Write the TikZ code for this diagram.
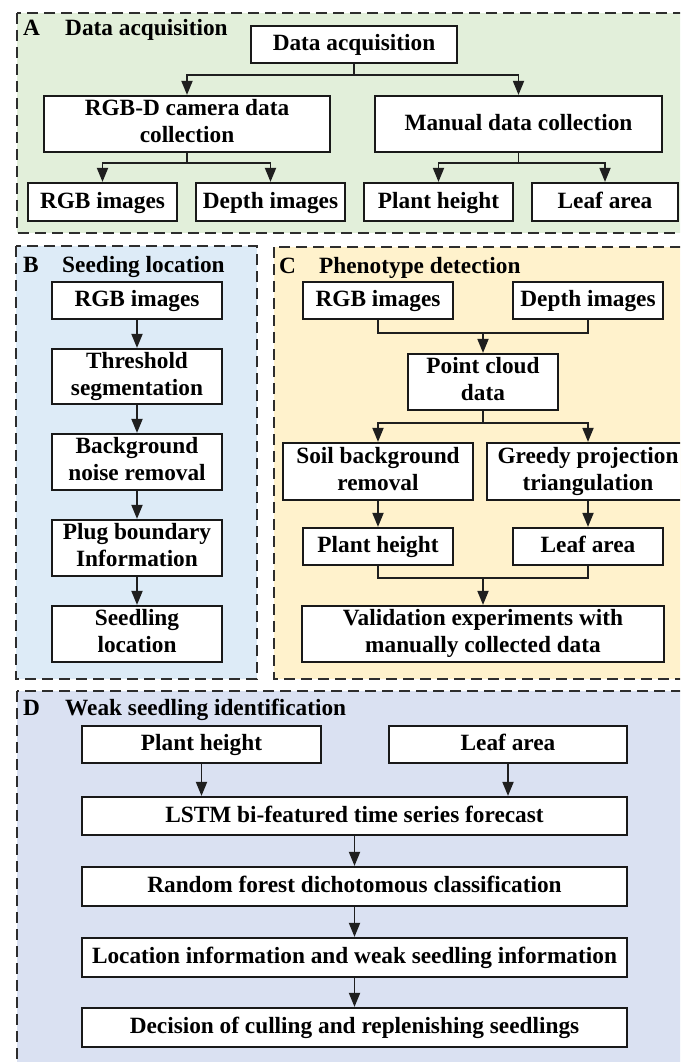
\documentclass[tikz,border=0pt]{standalone}
\usepackage{fontspec}
\setmainfont{Liberation Serif}
\usetikzlibrary{arrows.meta}
\definecolor{fillA}{RGB}{226,239,218}
\definecolor{fillB}{RGB}{221,235,247}
\definecolor{fillC}{RGB}{255,242,204}
\definecolor{fillD}{RGB}{218,225,242}
\definecolor{dashgray}{RGB}{45,45,45}
\begin{document}
\begin{tikzpicture}[x=1pt,y=-1pt,
  panel/.style={draw=dashgray, line width=2pt, dash pattern=on 11pt off 6pt},
  box/.style={draw=black!90, fill=white, line width=2.2pt, inner sep=0pt, align=center,
    font=\bfseries\fontsize{23.3}{26.7}\selectfont,
    execute at begin node={\rule{0pt}{18pt}},
    execute at end node={\rule[-5.5pt]{0pt}{5.5pt}}},
  title/.style={anchor=base west, inner sep=0pt, font=\bfseries\fontsize{23.3}{26.7}\selectfont},
  conn/.style={line width=1.8pt, draw=black!88},
  arrowc/.style={conn, -{Triangle[length=14pt,width=11pt]}}]
\clip (0,0) rectangle (680,1062);
\fill[white] (0,0) rectangle (680,1062);
% panels
\draw[panel, fill=fillA] (17,13) rectangle (700,233);
\draw[panel, fill=fillB] (16,246) rectangle (257,679);
\draw[panel, fill=fillC] (274,247) rectangle (700,679);
\draw[panel, fill=fillD] (17,691) rectangle (700,1080);
% titles
\node[title] (tA) at (23,36) {A};
\node[title] (tAt) at (65,36) {Data acquisition};
\node[title] (tB) at (23,272) {B};
\node[title] (tBt) at (62,272) {Seeding location};
\node[title] (tC) at (279,273) {C};
\node[title] (tCt) at (319,273) {Phenotype detection};
\node[title] (tD) at (23,715) {D};
\node[title] (tDt) at (65,715) {Weak seedling identification};
% section A
\node[box, minimum width=206, minimum height=37] (da) at (354,44.5) {Data acquisition};
\node[box, minimum width=286, minimum height=56] (rgbd) at (187,124) {RGB-D camera data\\collection};
\node[box, minimum width=287, minimum height=56] (manual) at (518.5,124) {Manual data collection};
\node[box, minimum width=149, minimum height=38] (argb) at (102.5,202) {RGB images};
\node[box, minimum width=149, minimum height=38] (adep) at (270.5,202) {Depth images};
\node[box, minimum width=149, minimum height=38] (aph) at (438.5,202) {Plant height};
\node[box, minimum width=146, minimum height=38] (ala) at (605,202) {Leaf area};
\draw[conn] (da.south) -- ++(0,11) coordinate (a1);
\draw[arrowc] (a1) -| (rgbd.north);
\draw[arrowc] (a1) -| (manual.north);
\draw[conn] (rgbd.south) -- ++(0,10) coordinate (a2);
\draw[arrowc] (a2) -| (argb.north);
\draw[arrowc] (a2) -| (adep.north);
\draw[conn] (manual.south) -- ++(0,10) coordinate (a3);
\draw[arrowc] (a3) -| (aph.north);
\draw[arrowc] (a3) -| (ala.north);
% section B
\node[box, minimum width=170, minimum height=37] (brgb) at (137,300.5) {RGB images};
\node[box, minimum width=170, minimum height=55] (bth) at (137,376.5) {Threshold\\segmentation};
\node[box, minimum width=170, minimum height=56] (bbg) at (137,462) {Background\\noise removal};
\node[box, minimum width=170, minimum height=56] (bplug) at (137,548) {Plug boundary\\Information};
\node[box, minimum width=170, minimum height=56] (bseed) at (137,634) {Seedling\\location};
\draw[arrowc] (brgb.south) -- (bth.north);
\draw[arrowc] (bth.south) -- (bbg.north);
\draw[arrowc] (bbg.south) -- (bplug.north);
\draw[arrowc] (bplug.south) -- (bseed.north);
% section C
\node[box, minimum width=150, minimum height=37] (crgb) at (378,300.5) {RGB images};
\node[box, minimum width=150, minimum height=37] (cdep) at (588,300.5) {Depth images};
\node[box, minimum width=150, minimum height=56] (cpc) at (483,382) {Point cloud\\data};
\node[box, minimum width=190, minimum height=57] (csoil) at (378,471.5) {Soil background\\removal};
\node[box, minimum width=202, minimum height=57] (cgr) at (588,471.5) {Greedy projection\\triangulation};
\node[box, minimum width=150, minimum height=37] (cph) at (378,546.5) {Plant height};
\node[box, minimum width=150, minimum height=37] (cla) at (588,546.5) {Leaf area};
\node[box, minimum width=362, minimum height=56] (cval) at (483,634) {Validation experiments with\\manually collected data};
\draw[conn] (crgb.south) -- ++(0,13) -| (cdep.south);
\coordinate (c1) at (483,332);
\draw[arrowc] (c1) -- (cpc.north);
\draw[conn] (cpc.south) -- ++(0,12) coordinate (c2);
\draw[arrowc] (c2) -| (csoil.north);
\draw[arrowc] (c2) -| (cgr.north);
\draw[arrowc] (csoil.south) -- (cph.north);
\draw[arrowc] (cgr.south) -- (cla.north);
\draw[conn] (cph.south) -- ++(0,12) -| (cla.south);
\coordinate (c3) at (483,577);
\draw[arrowc] (c3) -- (cval.north);
% section D
\node[box, minimum width=239, minimum height=37] (dph) at (201.5,744.5) {Plant height};
\node[box, minimum width=238, minimum height=37] (dla) at (508,744.5) {Leaf area};
\node[box, minimum width=545, minimum height=38] (dlstm) at (354.5,816) {LSTM bi-featured time series forecast};
\node[box, minimum width=545, minimum height=39] (drf) at (354.5,886.5) {Random forest dichotomous classification};
\node[box, minimum width=545, minimum height=39] (dloc) at (354.5,957.5) {Location information and weak seedling information};
\node[box, minimum width=545, minimum height=39] (ddec) at (354.5,1027.5) {Decision of culling and replenishing seedlings};
\draw[arrowc] (dph.south) -- (dph.south |- dlstm.north);
\draw[arrowc] (dla.south) -- (dla.south |- dlstm.north);
\draw[arrowc] (dlstm.south) -- (drf.north);
\draw[arrowc] (drf.south) -- (dloc.north);
\draw[arrowc] (dloc.south) -- (ddec.north);
\end{tikzpicture}
\end{document}
